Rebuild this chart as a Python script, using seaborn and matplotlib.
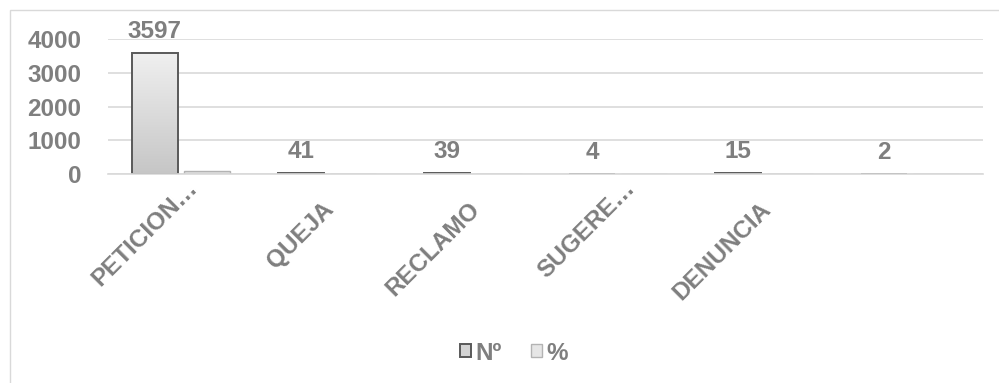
import numpy as np
import pandas as pd
import matplotlib
matplotlib.use("Agg")
import matplotlib.pyplot as plt
from matplotlib.patches import Rectangle, Patch
from matplotlib.colors import LinearSegmentedColormap
from matplotlib.transforms import ScaledTranslation, blended_transform_factory
import seaborn as sns

# --- data -------------------------------------------------------------
categories = ["PETICION…", "QUEJA", "RECLAMO", "SUGERE…", "DENUNCIA", ""]
counts = [3597, 41, 39, 4, 15, 2]
percents = [97.3, 1.1, 1.1, 0.1, 0.4, 0.1]
series_names = ["Nº", "%"]
y_ticks = [0, 1000, 2000, 3000, 4000]

df = pd.DataFrame({
    "tipo": categories * 2,
    "serie": [series_names[0]] * len(categories) + [series_names[1]] * len(categories),
    "valor": counts + percents,
})

# --- style ------------------------------------------------------------
sns.set_theme(style="white")
plt.rcParams["font.family"] = ["Liberation Sans", "DejaVu Sans"]
TEXT = "#7f7f7f"
GRID = "#d9d9d9"
FS = 17.5

fig = plt.figure(figsize=(9.99, 3.83), dpi=100)
ax = fig.add_axes([108 / 999, 1 - 174 / 383, 875 / 999, 135 / 383])

sns.barplot(data=df, x="tipo", y="valor", hue="serie", order=categories,
            hue_order=series_names, palette=["#d4d4d4", "#e6e6e6"],
            width=0.712, gap=0.115, linewidth=1.2, legend=False, ax=ax)

# gradient fills clipped to each bar
grad_n = LinearSegmentedColormap.from_list("gn", ["#c6c6c6", "#f0f0f0"])
grad_p = LinearSegmentedColormap.from_list("gp", ["#d6d6d6", "#eeeeee"])
ramp = np.linspace(0, 1, 256).reshape(-1, 1)
n = len(categories)
for i, bar in enumerate(ax.patches[: 2 * n]):
    is_count = i < n
    x0, y0 = bar.get_x(), bar.get_y()
    w, h = bar.get_width(), bar.get_height()
    img = ax.imshow(ramp, extent=[x0, x0 + w, y0, y0 + h], origin="lower",
                    aspect="auto", cmap=grad_n if is_count else grad_p,
                    zorder=bar.get_zorder() - 0.1, interpolation="bilinear")
    img.set_clip_path(bar)
    bar.set_facecolor("none")
    bar.set_edgecolor("#595959" if is_count else "#b3b3b3")
    bar.set_linewidth(1.4 if is_count else 1.0)

ax.set_xlim(-0.5, n - 0.5)
ax.set_ylim(0, 4000)
ax.set_yticks(y_ticks)
ax.set_aspect("auto")

# grid and axes
ax.yaxis.grid(True, color=GRID, linewidth=1.2)
ax.set_axisbelow(True)
for side in ["top", "right", "left"]:
    ax.spines[side].set_visible(False)
ax.spines["bottom"].set_color(GRID)
ax.spines["bottom"].set_linewidth(1.2)
ax.set_xlabel("")
ax.set_ylabel("")
ax.tick_params(axis="both", length=0)
ax.tick_params(axis="y", pad=19, labelsize=FS, labelcolor=TEXT)
for lbl in ax.get_yticklabels():
    lbl.set_fontweight("bold")

# rotated category labels
ax.set_xticklabels([])
trans = blended_transform_factory(ax.transData, ax.transAxes)
for i, cat in enumerate(categories):
    if not cat:
        continue
    if cat.endswith("…"):
        dx, dy = 18, -15
    else:
        dx, dy = 8, -36
    off = ScaledTranslation(dx / 100, dy / 100, fig.dpi_scale_trans)
    ax.text(i, 0, cat, transform=trans + off, rotation=45,
            rotation_mode="anchor", ha="right", va="baseline",
            fontsize=FS, fontweight="bold", color=TEXT)

# value labels on the count series
for i, bar in enumerate(ax.patches[:n]):
    ax.annotate(f"{counts[i]}", (bar.get_x() + bar.get_width() / 2, counts[i]),
                xytext=(0, 10.8), textcoords="offset points",
                ha="center", va="baseline", fontsize=FS, fontweight="bold",
                color=TEXT, annotation_clip=False)

# legend
handles = [Patch(facecolor="#d4d4d4", edgecolor="#595959", linewidth=1.4, label="Nº"),
           Patch(facecolor="#e6e6e6", edgecolor="#b3b3b3", linewidth=1.0, label="%")]
leg = fig.legend(handles=handles, loc="center", bbox_to_anchor=(514 / 999, 1 - 353 / 383),
                 ncol=2, frameon=False, handlelength=0.45, handleheight=0.45,
                 handletextpad=0.2, columnspacing=1.2,
                 prop={"size": FS, "weight": "bold"})
for t in leg.get_texts():
    t.set_color(TEXT)

# chart frame
fig.patches.append(Rectangle((9.5 / 999, -0.1), 1.2, 1.1 - 10 / 383,
                             transform=fig.transFigure, fill=False,
                             edgecolor=GRID, linewidth=1.0))

fig.savefig("out.png", dpi=100)
